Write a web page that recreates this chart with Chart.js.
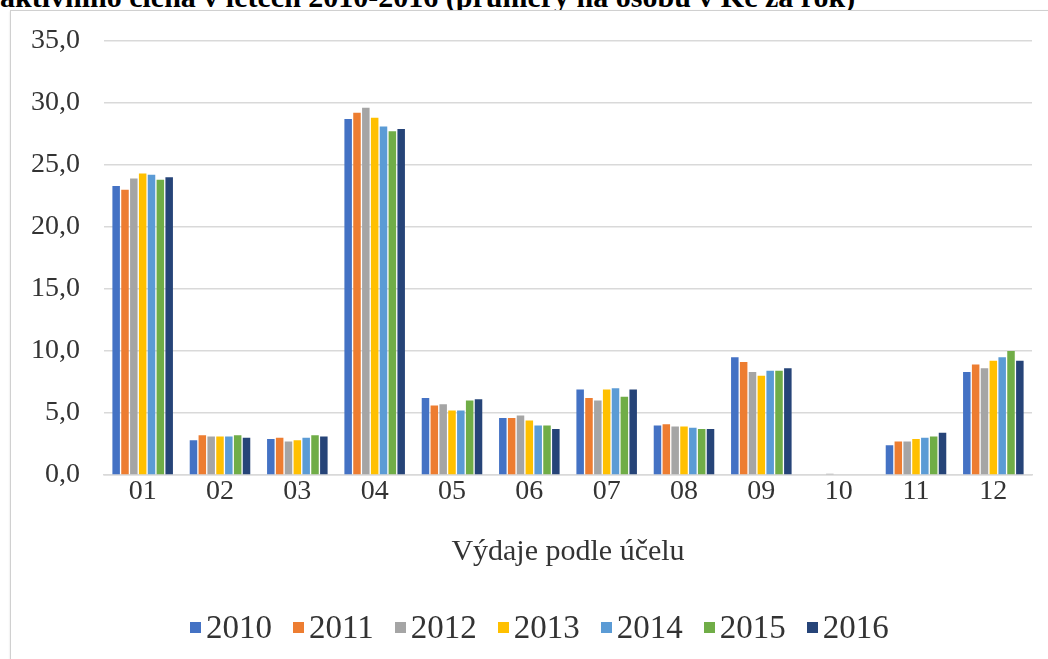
<!DOCTYPE html>
<html>
<head>
<meta charset="utf-8">
<script src="https://cdn.jsdelivr.net/npm/chart.js@4.4.1/dist/chart.umd.min.js"></script>
<style>
  html, body { margin: 0; padding: 0; background: #fff; width: 1048px; height: 659px; overflow: hidden; position: relative; }
  #title { position: absolute; left: 0; top: -18px; font: bold 30px 'Liberation Serif', 'Times New Roman', serif; line-height: 30px; color: #000; white-space: nowrap; }
  #frame { position: absolute; left: 10px; top: 10px; width: 1200px; height: 800px; border: 1px solid #d0d0d0; box-shadow: 0 1px 2px rgba(0,0,0,0.12); background: #fff; }
  #c { position: absolute; left: 0; top: 0; }
  #legend { position: absolute; left: 190px; top: 607px; height: 40px; display: flex; align-items: center; font: 33px 'Liberation Serif', 'Times New Roman', serif; color: #333; white-space: nowrap; }
  #legend .item { display: flex; align-items: center; margin-right: 21px; }
  #legend .box { width: 11px; height: 11px; margin-right: 5px; }
</style>
</head>
<body>
<div id="title">aktivního člena v letech 2010-2016 (průměry na osobu v Kč za rok)</div>
<div id="frame"></div>
<canvas id="c" width="1048" height="659"></canvas>
<div id="legend"></div>
<script>
const categories = ['01','02','03','04','05','06','07','08','09','10','11','12'];
const years = ['2010','2011','2012','2013','2014','2015','2016'];
const colors = ['#4472C4','#ED7D31','#A5A5A5','#FFC000','#5B9BD5','#70AD47','#264478'];

const v2010 = [23.3, 2.8, 2.9, 28.7, 6.2, 4.6, 6.9, 4.0, 9.5, 0.0, 2.4, 8.3];
const v2011 = [23.0, 3.2, 3.0, 29.2, 5.6, 4.6, 6.2, 4.1, 9.1, 0.0, 2.7, 8.9];
const v2012 = [23.9, 3.1, 2.7, 29.6, 5.7, 4.8, 6.0, 3.9, 8.3, 0.1, 2.7, 8.6];
const v2013 = [24.3, 3.1, 2.8, 28.8, 5.2, 4.4, 6.9, 3.9, 8.0, 0.0, 2.9, 9.2];
const v2014 = [24.2, 3.1, 3.0, 28.1, 5.2, 4.0, 7.0, 3.8, 8.4, 0.0, 3.0, 9.5];
const v2015 = [23.8, 3.2, 3.2, 27.7, 6.0, 4.0, 6.3, 3.7, 8.4, 0.0, 3.1, 10.0];
const v2016 = [24.0, 3.0, 3.1, 27.9, 6.1, 3.7, 6.9, 3.7, 8.6, 0.0, 3.4, 9.2];
const series = [v2010, v2011, v2012, v2013, v2014, v2015, v2016];

const yTicks = [0, 5, 10, 15, 20, 25, 30, 35];
const xTitle = 'Výdaje podle účelu';

const serif = "'Liberation Serif', 'Times New Roman', serif";
const textColor = '#333333';
const gridColor = '#d9d9d9';

const chart = new Chart(document.getElementById('c'), {
  type: 'bar',
  data: {
    labels: categories,
    datasets: years.map((y, i) => ({
      label: y,
      data: series[i],
      backgroundColor: colors[i],
      borderWidth: 0,
      categoryPercentage: 0.8,
      barPercentage: 0.85
    }))
  },
  options: {
    responsive: false,
    animation: false,
    devicePixelRatio: 1,
    layout: { padding: { top: 40, right: 16, bottom: 56, left: 0 } },
    plugins: {
      tooltip: { enabled: false },
      legend: { display: false }
    },
    scales: {
      x: {
        grid: { display: false, drawTicks: false },
        border: { display: true, color: gridColor, width: 1.5 },
        ticks: { color: textColor, font: { family: serif, size: 28 }, padding: 0, maxRotation: 0 },
        title: { display: true, text: xTitle, color: textColor, font: { family: serif, size: 30 }, padding: { top: 0, bottom: 33 } },
        afterFit: (s) => { s.height = 128; }
      },
      y: {
        min: 0, max: 35,
        afterBuildTicks: (s) => { s.ticks = yTicks.map(v => ({ value: v })); },
        grid: { color: gridColor, lineWidth: 1.5, drawTicks: false },
        border: { display: false },
        ticks: {
          color: textColor, font: { family: serif, size: 28 }, padding: 24,
          callback: (v) => Number(v).toFixed(1).replace('.', ',')
        },
        afterFit: (s) => { s.width = 104; }
      }
    }
  }
});

// HTML legend built from the chart's datasets
const legendEl = document.getElementById('legend');
chart.data.datasets.forEach(ds => {
  const item = document.createElement('div');
  item.className = 'item';
  const box = document.createElement('span');
  box.className = 'box';
  box.style.background = ds.backgroundColor;
  const txt = document.createElement('span');
  txt.textContent = ds.label;
  item.appendChild(box);
  item.appendChild(txt);
  legendEl.appendChild(item);
});
</script>
</body>
</html>
